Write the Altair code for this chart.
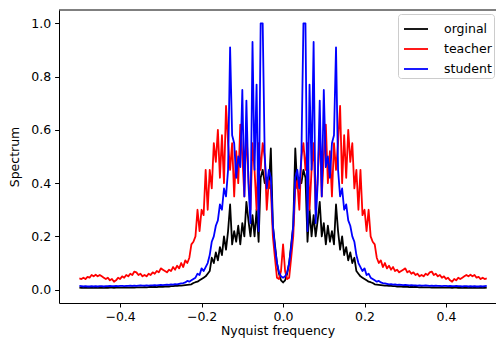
import altair as alt
import pandas as pd

# frequency grid (-0.5 .. 0.5, step 0.005)
freq = [round(-0.5 + 0.005 * i, 3) for i in range(201)]

# ---- original (black) ----
orig_neg = [0.008, 0.007, 0.007, 0.008, 0.007, 0.007, 0.007, 0.008, 0.007, 0.007,
            0.008, 0.007, 0.007, 0.008, 0.007, 0.008, 0.008, 0.007, 0.008, 0.008,
            0.008, 0.008, 0.008, 0.009, 0.008, 0.008, 0.009, 0.008, 0.009, 0.009,
            0.009, 0.009, 0.010, 0.009, 0.010, 0.010, 0.010, 0.011, 0.010, 0.011,
            0.011, 0.011, 0.012, 0.012, 0.012, 0.013, 0.013, 0.014, 0.014, 0.015,
            0.015, 0.016, 0.017, 0.018, 0.019, 0.02, 0.025, 0.028, 0.03, 0.035,
            0.04, 0.045, 0.05, 0.06, 0.07, 0.12, 0.10, 0.14, 0.11, 0.16,
            0.13, 0.20, 0.15, 0.22, 0.32, 0.17, 0.22, 0.18, 0.24, 0.17,
            0.25, 0.20, 0.33, 0.26, 0.20, 0.28, 0.20, 0.30, 0.18, 0.42,
            0.45, 0.40, 0.42, 0.38, 0.53, 0.24, 0.17, 0.10, 0.06, 0.035]
orig_pos = [0.027,
            0.035, 0.06, 0.10, 0.17, 0.24, 0.53, 0.38, 0.42, 0.40, 0.45,
            0.42, 0.18, 0.30, 0.20, 0.28, 0.20, 0.26, 0.33, 0.20, 0.25,
            0.17, 0.24, 0.18, 0.22, 0.17, 0.32, 0.22, 0.15, 0.20, 0.13,
            0.16, 0.11, 0.14, 0.10, 0.12, 0.07, 0.06, 0.05, 0.045, 0.04,
            0.035, 0.03, 0.028, 0.025, 0.02, 0.019, 0.018, 0.017, 0.016, 0.015,
            0.015, 0.014, 0.014, 0.013, 0.013, 0.012, 0.012, 0.012, 0.011, 0.011,
            0.011, 0.010, 0.011, 0.010, 0.010, 0.010, 0.009, 0.010, 0.009, 0.009,
            0.009, 0.009, 0.008, 0.009, 0.008, 0.008, 0.009, 0.008, 0.008, 0.008,
            0.008, 0.008, 0.007, 0.008, 0.008, 0.007, 0.008, 0.007, 0.007, 0.008,
            0.007, 0.007, 0.008, 0.007, 0.007, 0.007, 0.008, 0.007, 0.007, 0.008]

# ---- teacher (red) ----
teacher_neg = [0.042, 0.04, 0.045, 0.04, 0.048, 0.045, 0.055, 0.05, 0.056, 0.05,
               0.055, 0.05, 0.045, 0.04, 0.045, 0.035, 0.04, 0.03, 0.035, 0.045,
               0.04, 0.05, 0.045, 0.055, 0.05, 0.06, 0.055, 0.068, 0.065, 0.055,
               0.06, 0.05, 0.055, 0.05, 0.06, 0.055, 0.065, 0.06, 0.07, 0.065,
               0.08, 0.075, 0.07, 0.065, 0.075, 0.07, 0.085, 0.075, 0.09, 0.08,
               0.10, 0.085, 0.11, 0.10, 0.12, 0.17, 0.18, 0.20, 0.30, 0.22,
               0.30, 0.28, 0.45, 0.30, 0.45, 0.38, 0.55, 0.48, 0.60, 0.42,
               0.58, 0.40, 0.69, 0.55, 0.45, 0.55, 0.35, 0.52, 0.40, 0.62,
               0.50, 0.35, 0.60, 0.42, 0.30, 0.55, 0.45, 0.30, 0.55, 0.45,
               0.55, 0.50, 0.30, 0.41, 0.38, 0.20, 0.12, 0.045, 0.04, 0.07]
teacher_pos = [0.17,
               0.07, 0.04, 0.045, 0.12, 0.20, 0.38, 0.41, 0.30, 0.50, 0.55,
               0.45, 0.55, 0.30, 0.45, 0.55, 0.30, 0.42, 0.60, 0.35, 0.50,
               0.62, 0.40, 0.52, 0.35, 0.55, 0.45, 0.55, 0.69, 0.40, 0.58,
               0.42, 0.60, 0.48, 0.55, 0.38, 0.45, 0.30, 0.45, 0.28, 0.30,
               0.22, 0.30, 0.20, 0.18, 0.17, 0.12, 0.10, 0.11, 0.085, 0.10,
               0.08, 0.09, 0.075, 0.085, 0.07, 0.075, 0.065, 0.07, 0.075, 0.08,
               0.065, 0.07, 0.06, 0.065, 0.055, 0.06, 0.05, 0.055, 0.05, 0.06,
               0.055, 0.065, 0.068, 0.055, 0.06, 0.05, 0.055, 0.045, 0.05, 0.04,
               0.045, 0.035, 0.03, 0.04, 0.035, 0.045, 0.04, 0.045, 0.05, 0.055,
               0.05, 0.056, 0.05, 0.055, 0.045, 0.048, 0.04, 0.045, 0.04, 0.042]

# ---- student (blue) ----
student_neg = [0.014, 0.013, 0.012, 0.013, 0.012, 0.012, 0.013, 0.012, 0.013, 0.012,
               0.013, 0.013, 0.012, 0.013, 0.013, 0.014, 0.013, 0.013, 0.014, 0.013,
               0.014, 0.014, 0.013, 0.014, 0.014, 0.015, 0.014, 0.015, 0.014, 0.015,
               0.016, 0.015, 0.015, 0.016, 0.015, 0.016, 0.016, 0.017, 0.016, 0.017,
               0.018, 0.017, 0.018, 0.019, 0.018, 0.020, 0.019, 0.021, 0.020, 0.022,
               0.024, 0.025, 0.027, 0.033, 0.03, 0.035, 0.04, 0.045, 0.06, 0.055,
               0.08, 0.07, 0.085, 0.10, 0.13, 0.18, 0.20, 0.24, 0.26, 0.32,
               0.30, 0.38, 0.35, 0.45, 0.91, 0.58, 0.55, 0.42, 0.50, 0.46,
               0.75, 0.35, 0.71, 0.40, 0.25, 0.93, 0.45, 0.77, 0.22, 1.0,
               1.0, 0.50, 0.38, 0.45, 0.42, 0.24, 0.16, 0.10, 0.065, 0.05]
student_pos = [0.045,
               0.05, 0.065, 0.10, 0.16, 0.24, 0.42, 0.45, 0.38, 0.50, 1.0,
               1.0, 0.22, 0.77, 0.45, 0.93, 0.25, 0.40, 0.71, 0.35, 0.75,
               0.46, 0.50, 0.42, 0.55, 0.58, 0.91, 0.45, 0.35, 0.38, 0.30,
               0.32, 0.26, 0.24, 0.20, 0.18, 0.13, 0.10, 0.085, 0.07, 0.08,
               0.055, 0.06, 0.045, 0.04, 0.035, 0.03, 0.033, 0.027, 0.025, 0.024,
               0.022, 0.020, 0.021, 0.019, 0.020, 0.018, 0.019, 0.018, 0.017, 0.018,
               0.017, 0.016, 0.017, 0.016, 0.016, 0.015, 0.016, 0.015, 0.015, 0.016,
               0.015, 0.014, 0.015, 0.014, 0.015, 0.014, 0.014, 0.013, 0.014, 0.014,
               0.013, 0.014, 0.013, 0.013, 0.014, 0.013, 0.013, 0.012, 0.013, 0.013,
               0.012, 0.013, 0.012, 0.013, 0.012, 0.012, 0.013, 0.012, 0.013, 0.014]

series_names = ["orginal", "teacher", "student"]
series_colors = ["#000000", "#ff0000", "#0000ff"]
x_ticks = [-0.4, -0.2, 0.0, 0.2, 0.4]
y_ticks = [0.0, 0.2, 0.4, 0.6, 0.8, 1.0]

series_values = [orig_neg + orig_pos, teacher_neg + teacher_pos, student_neg + student_pos]
rows = []
for name, vals in zip(series_names, series_values):
    for f, v in zip(freq, vals):
        rows.append({"freq": f, "value": v, "series": name})
df = pd.DataFrame(rows)

W, H = 437, 293
FONT = "DejaVu Sans"

x_enc = alt.X("freq:Q",
              scale=alt.Scale(domain=[-0.55, 0.5227], nice=False, zero=False),
              axis=alt.Axis(values=x_ticks, format=".1f", title="Nyquist frequency",
                            grid=False, titlePadding=1.5, labelPadding=3.5, tickSize=4))
y_enc = alt.Y("value:Q",
              scale=alt.Scale(domain=[-0.05, 1.05], nice=False, zero=False),
              axis=alt.Axis(values=y_ticks, format=".1f", title="Spectrum",
                            grid=False, titlePadding=9))
color_enc = alt.Color("series:N",
                      scale=alt.Scale(domain=series_names, range=series_colors),
                      legend=alt.Legend(title=None, orient="none", legendX=339, legendY=4,
                                        padding=2, symbolOffset=3, strokeColor="#cccccc",
                                        fillColor="rgba(255,255,255,0.8)", cornerRadius=3,
                                        symbolType="stroke", symbolSize=576,
                                        symbolStrokeWidth=1.8, labelFont=FONT,
                                        labelFontSize=12.5, labelColor="black",
                                        labelOffset=15, rowPadding=-3.5))

layers = []
for s in series_names:
    layers.append(
        alt.Chart(df).transform_filter(alt.datum.series == s)
        .mark_line(strokeWidth=1.8, strokeJoin="round")
        .encode(x=x_enc, y=y_enc, color=color_enc)
    )

frame_top = alt.Chart(pd.DataFrame({"k": [0]})).mark_rule(color="black", strokeWidth=1).encode(
    x=alt.value(0), x2=alt.value(W), y=alt.value(0)
)

chart = alt.layer(*layers, frame_top).properties(
    width=W, height=H,
    padding={"left": 51, "top": 2, "right": 0, "bottom": 36},
    autosize=alt.AutoSizeParams(type="none"),
    background="white",
).configure_view(stroke="transparent").configure_axis(
    domainColor="black", domainWidth=1, tickColor="black", tickWidth=1, tickSize=4.4,
    labelFont=FONT, labelFontSize=12.5, labelColor="black", labelPadding=4,
    titleFont=FONT, titleFontSize=12.5, titleFontWeight="normal", titleColor="black",
)

chart.save("out.html", embed_options={"renderer": "svg", "actions": False})
